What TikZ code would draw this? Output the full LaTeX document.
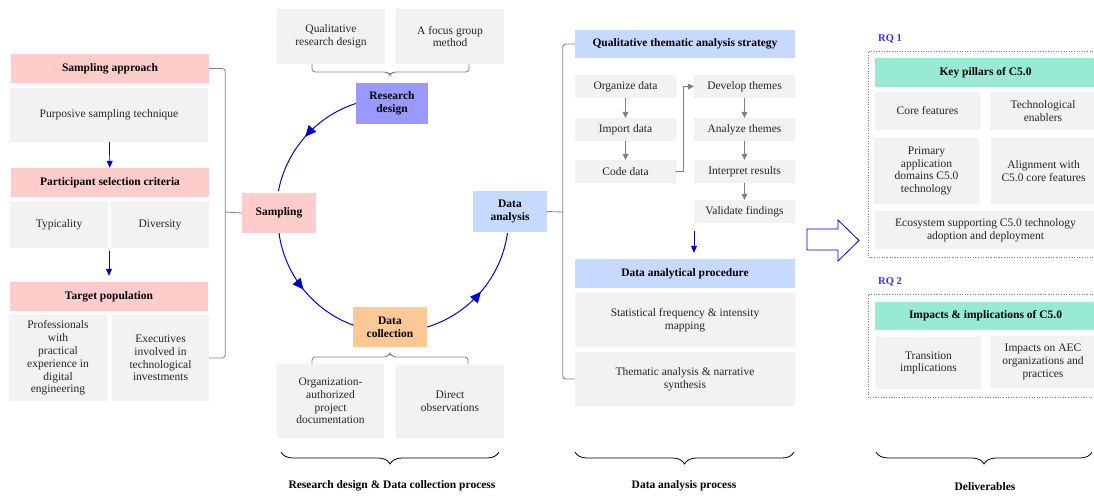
\documentclass[tikz,border=0pt]{standalone}
\usepackage{fontspec}
\setmainfont{Liberation Serif}
\usepackage{xcolor}
\usetikzlibrary{arrows.meta,decorations.markings,decorations.pathreplacing}
\definecolor{boxgray}{RGB}{242,242,242}
\definecolor{headpink}{RGB}{255,204,204}
\definecolor{headblue}{RGB}{198,217,255}
\definecolor{headmint}{RGB}{153,234,212}
\definecolor{designblue}{RGB}{153,153,255}
\definecolor{collectorange}{RGB}{250,201,150}
\definecolor{flowblue}{RGB}{0,0,204}
\definecolor{rqblue}{RGB}{51,51,255}
\definecolor{linegray}{RGB}{128,128,128}
\tikzset{
  gbox/.style={rectangle,fill=boxgray,text=black!85,align=center,inner sep=1pt},
  pinkhead/.style={rectangle,fill=headpink,font=\bfseries,align=center},
  bluehead/.style={rectangle,fill=headblue,font=\bfseries,align=center},
  minthead/.style={rectangle,fill=headmint,font=\bfseries,align=center},
  stage/.style={rectangle,font=\bfseries,align=center,minimum width=74,minimum height=40},
  gline/.style={draw=linegray,line width=0.8pt,rounded corners=3pt},
  bluearrow/.style={draw=flowblue,line width=0.7pt,-{Triangle[length=7pt,width=6pt]}},
  grayarrow/.style={draw=linegray,line width=0.7pt,-{Triangle[length=6pt,width=6pt]}},
  cyclearc/.style={draw=flowblue,line width=1pt,postaction=decorate,
    decoration={markings,mark=at position 0.5 with {\arrow{Triangle[length=11pt,width=10pt]}}}},
  blackbrace/.style={draw=black,line width=0.8pt,decorate,decoration={brace,mirror,amplitude=12pt}},
  rqframe/.style={draw=linegray,line width=0.6pt,dotted},
  rqlabel/.style={anchor=west,inner sep=0pt,text=rqblue,font=\fontsize{10.5}{12}\selectfont\bfseries},
}
\begin{document}
\fontsize{11.5}{12.8}\selectfont
\begin{tikzpicture}[x=1pt,y=-1pt]
  \useasboundingbox (0,0) rectangle (1094,496);

  % sampling column
  \node at (110,68.5)  [pinkhead,minimum width=198,minimum height=29] (approach) {Sampling approach};
  \node at (109,115)   [gbox,minimum width=198,minimum height=54]     (purposive) {Purposive sampling technique};
  \node at (110,182.5) [pinkhead,minimum width=198,minimum height=29] (criteria) {Participant selection criteria};
  \node at (59,224.5)  [gbox,minimum width=98,minimum height=46]      (typical) {Typicality};
  \node at (160,225)   [gbox,minimum width=98,minimum height=46]      (diverse) {Diversity};
  \node at (109,296.5) [pinkhead,minimum width=198,minimum height=29] (target) {Target population};
  \node at (58,358)    [gbox,minimum width=98,minimum height=86]      (prof) {Professionals\\with\\practical\\experience in\\digital\\engineering};
  \node at (160.5,358) [gbox,minimum width=97,minimum height=86]      (execs) {Executives\\involved in\\technological\\investments};
  \coordinate (crit-out) at (109,251);

  \draw [bluearrow] (purposive) -- (criteria);
  \draw [bluearrow,shorten >=6pt] (crit-out) -- (target);

  % research cycle
  \node at (331,36.5)  [gbox,minimum width=108,minimum height=55] (qual) {Qualitative\\research design};
  \node at (450,36.5)  [gbox,minimum width=108,minimum height=55] (focus) {A focus group\\method};
  \node at (392,103.5) [stage,fill=designblue,minimum width=72,minimum height=41] (design) {Research\\design};
  \node at (279,213)   [stage,fill=headpink]      (sampling) {Sampling};
  \node at (510,211.5) [stage,fill=headblue,minimum height=41] (analysis) {Data\\analysis};
  \node at (390,327)   [stage,fill=collectorange] (collection) {Data\\collection};
  \node at (330.5,401) [gbox,minimum width=107,minimum height=74] (orgdoc) {Organization-\\authorized\\project\\documentation};
  \node at (450,401.5) [gbox,minimum width=108,minimum height=73] (direct) {Direct\\observations};

  \draw [cyclearc] (design.west) arc[start angle=108,end angle=169,radius=115pt];
  \draw [cyclearc] (sampling.south) arc[start angle=188,end angle=250,radius=115pt];
  \draw [cyclearc] (collection.east) arc[start angle=287,end angle=352,radius=115pt];

  % small brackets to the stages
  \draw [gline] (312,64) |- (387,72) -- (390,75) -- (393,72) -| (469,64);
  \draw [gline] (312,364) |- (387,357) -- (390,353) -- (393,357) -| (468,364);

  \coordinate (left-bar) at (225,212);
  \draw [gline] (approach.east) -- ++(16,0) |- (execs.east);
  \draw [gline] (sampling.west) -- (left-bar);

  % analysis column
  \node at (685,44)      [bluehead,minimum width=220,minimum height=28] (strategy) {Qualitative thematic analysis strategy};
  \node at (625.5,86.5)  [gbox,minimum width=101,minimum height=23] (organize) {Organize data};
  \node at (625.5,129.5) [gbox,minimum width=101,minimum height=23] (import) {Import data};
  \node at (625.5,171.5) [gbox,minimum width=101,minimum height=23] (code) {Code data};
  \node at (744.5,86.5)  [gbox,minimum width=101,minimum height=23] (develop) {Develop themes};
  \node at (744.5,129.5) [gbox,minimum width=101,minimum height=23] (analyze) {Analyze themes};
  \node at (744.5,171.5) [gbox,minimum width=101,minimum height=23] (interpret) {Interpret results};
  \node at (744.5,211.5) [gbox,minimum width=101,minimum height=23] (validate) {Validate findings};
  \node at (685,273.5)   [bluehead,minimum width=220,minimum height=29] (procedure) {Data analytical procedure};
  \node at (685,320)     [gbox,minimum width=220,minimum height=54] (statfreq) {Statistical frequency \& intensity\\mapping};
  \node at (685,379)     [gbox,minimum width=220,minimum height=54] (thematic) {Thematic analysis \& narrative\\synthesis};
  \coordinate (val-out) at (694,231);

  \draw [grayarrow] (organize) -- (import);
  \draw [grayarrow] (import) -- (code);
  \draw [grayarrow] (code.east) -- ++(7,0) |- (develop.west);
  \draw [grayarrow] (develop) -- (analyze);
  \draw [grayarrow] (analyze) -- (interpret);
  \draw [grayarrow] (interpret) -- (validate);
  \draw [bluearrow,shorten >=6pt] (val-out) -- (val-out |- procedure.north);

  \coordinate (right-bar) at (563,212);
  \draw [gline] (strategy.west) -- ++(-12,0) |- (thematic.west);
  \draw [gline] (analysis.east) -- (right-bar);

  % deliverables
  \draw [draw=flowblue,fill=white,line width=0.8pt]
    (807,229) -- (838,229) -- (838,220) -- (859,240.5) -- (838,261) -- (838,250) -- (807,250) -- cycle;

  \node at (878,39) [rqlabel] (rq1) {RQ 1};
  \draw [rqframe] (1098,51) -- (868,51) -- (868,257) -- (1098,257);
  \node at (985.5,72.5) [minthead,minimum width=221,minimum height=29] (pillars) {Key pillars of C5.0};
  \node at (927.5,111)  [gbox,minimum width=105,minimum height=38] (core) {Core features};
  \node at (1043,111)   [gbox,minimum width=106,minimum height=38] (enablers) {Technological\\enablers};
  \node at (926.5,171)  [gbox,minimum width=105,minimum height=66] (domains) {Primary\\application\\domains C5.0\\technology};
  \node at (1043.5,171) [gbox,minimum width=105,minimum height=66] (alignment) {Alignment with\\C5.0 core features};
  \node at (985.5,230)  [gbox,minimum width=221,minimum height=38] (ecosystem) {Ecosystem supporting C5.0 technology\\adoption and deployment};

  \node at (878,282) [rqlabel] (rq2) {RQ 2};
  \draw [rqframe] (1098,294) -- (868,294) -- (868,397) -- (1098,397);
  \node at (985.5,316) [minthead,minimum width=221,minimum height=28] (impacts) {Impacts \& implications of C5.0};
  \node at (928.5,363) [gbox,minimum width=105,minimum height=52] (transition) {Transition\\implications};
  \node at (1043,362)  [gbox,minimum width=106,minimum height=52] (aec) {Impacts on AEC\\organizations and\\practices};

  % stage braces
  \draw [blackbrace] (281,452) -- (499,452);
  \draw [blackbrace] (575,452) -- (794,452);
  \draw [blackbrace] (876,452) -- (1092,452);
  \node at (392,486) [font=\bfseries] (lbl-design) {Research design \& Data collection process};
  \node at (684,486) [font=\bfseries] (lbl-analysis) {Data analysis process};
  \node at (985,487) [font=\bfseries] (lbl-deliver) {Deliverables};
\end{tikzpicture}
\end{document}
